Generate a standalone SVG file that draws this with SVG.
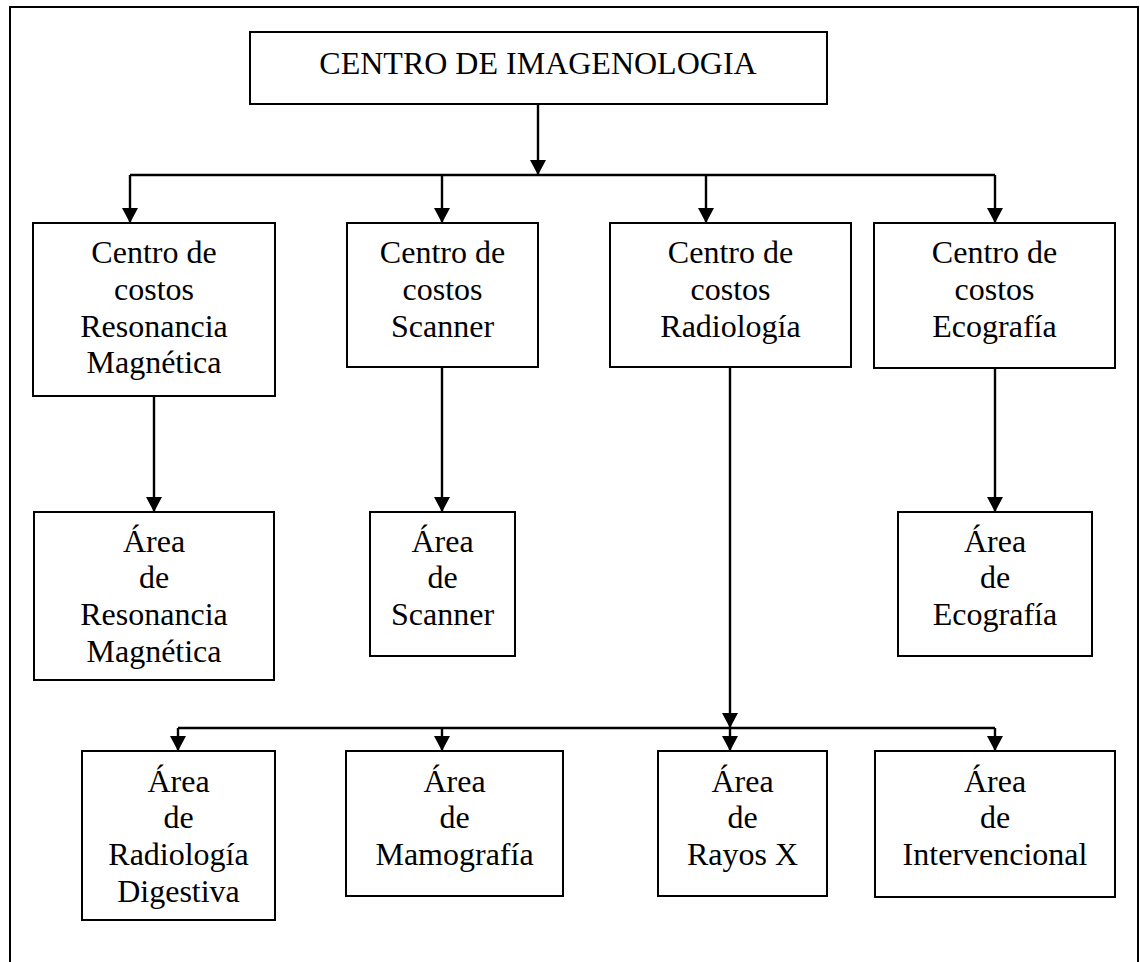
<svg xmlns="http://www.w3.org/2000/svg" width="1140" height="962" viewBox="0 0 1140 962">
  <style>
    .box { fill: #fff; stroke: #000; stroke-width: 2; }
    .frame { fill: none; stroke: #000; stroke-width: 2; }
    .lbl { font-family: "Liberation Serif", "Times New Roman", serif; font-size: 32px; fill: #000; text-anchor: middle; }
    .wire { fill: none; stroke: #000; stroke-width: 2.4; }
  </style>
  <defs>
    <marker id="arrow" markerUnits="userSpaceOnUse" markerWidth="15" markerHeight="16" refX="15" refY="8" orient="auto">
      <path d="M0,0 L15,8 L0,16 Z" fill="#000"/>
    </marker>
  </defs>

  <rect width="1140" height="962" fill="#fff"/>
  <!-- page frame, open at the bottom -->
  <rect class="frame" x="10" y="7" width="1128" height="980"/>

  <!-- connectors -->
  <g id="connectors">
    <line class="wire" x1="538" y1="104" x2="538" y2="175" marker-end="url(#arrow)"/>
    <line class="wire" x1="130" y1="175" x2="995" y2="175"/>
    <line class="wire" x1="130" y1="175" x2="130" y2="223" marker-end="url(#arrow)"/>
    <line class="wire" x1="442" y1="175" x2="442" y2="223" marker-end="url(#arrow)"/>
    <line class="wire" x1="706" y1="175" x2="706" y2="223" marker-end="url(#arrow)"/>
    <line class="wire" x1="995" y1="175" x2="995" y2="223" marker-end="url(#arrow)"/>

    <line class="wire" x1="154" y1="396" x2="154" y2="512" marker-end="url(#arrow)"/>
    <line class="wire" x1="442" y1="367" x2="442" y2="512" marker-end="url(#arrow)"/>
    <line class="wire" x1="995" y1="368" x2="995" y2="512" marker-end="url(#arrow)"/>
    <line class="wire" x1="730" y1="367" x2="730" y2="728" marker-end="url(#arrow)"/>

    <line class="wire" x1="178" y1="728" x2="995" y2="728"/>
    <line class="wire" x1="178" y1="728" x2="178" y2="751" marker-end="url(#arrow)"/>
    <line class="wire" x1="442" y1="728" x2="442" y2="751" marker-end="url(#arrow)"/>
    <line class="wire" x1="730" y1="728" x2="730" y2="751" marker-end="url(#arrow)"/>
    <line class="wire" x1="995" y1="728" x2="995" y2="751" marker-end="url(#arrow)"/>
  </g>

  <!-- root -->
  <g id="centro-imagenologia">
    <rect class="box" x="250" y="32" width="577" height="72"/>
    <text class="lbl" x="538" y="74">CENTRO DE IMAGENOLOGIA</text>
  </g>

  <!-- cost centres -->
  <g id="cc-resonancia">
    <rect class="box" x="33" y="223" width="242" height="173"/>
    <text class="lbl" x="154" y="263">Centro de</text>
    <text class="lbl" x="154" y="300">costos</text>
    <text class="lbl" x="154" y="337">Resonancia</text>
    <text class="lbl" x="154" y="373">Magnética</text>
  </g>
  <g id="cc-scanner">
    <rect class="box" x="347" y="223" width="191" height="144"/>
    <text class="lbl" x="442.5" y="263">Centro de</text>
    <text class="lbl" x="442.5" y="300">costos</text>
    <text class="lbl" x="442.5" y="337">Scanner</text>
  </g>
  <g id="cc-radiologia">
    <rect class="box" x="610" y="223" width="241" height="144"/>
    <text class="lbl" x="730.5" y="263">Centro de</text>
    <text class="lbl" x="730.5" y="300">costos</text>
    <text class="lbl" x="730.5" y="337">Radiología</text>
  </g>
  <g id="cc-ecografia">
    <rect class="box" x="874" y="223" width="241" height="145"/>
    <text class="lbl" x="994.5" y="263">Centro de</text>
    <text class="lbl" x="994.5" y="300">costos</text>
    <text class="lbl" x="994.5" y="337">Ecografía</text>
  </g>

  <!-- areas under single cost centres -->
  <g id="area-resonancia">
    <rect class="box" x="34" y="512" width="240" height="168"/>
    <text class="lbl" x="154" y="552">Área</text>
    <text class="lbl" x="154" y="588">de</text>
    <text class="lbl" x="154" y="625">Resonancia</text>
    <text class="lbl" x="154" y="662">Magnética</text>
  </g>
  <g id="area-scanner">
    <rect class="box" x="370" y="512" width="145" height="144"/>
    <text class="lbl" x="442.5" y="552">Área</text>
    <text class="lbl" x="442.5" y="588">de</text>
    <text class="lbl" x="442.5" y="625">Scanner</text>
  </g>
  <g id="area-ecografia">
    <rect class="box" x="898" y="512" width="194" height="144"/>
    <text class="lbl" x="995" y="552">Área</text>
    <text class="lbl" x="995" y="588">de</text>
    <text class="lbl" x="995" y="625">Ecografía</text>
  </g>

  <!-- radiology areas -->
  <g id="area-radiologia-digestiva">
    <rect class="box" x="82" y="751" width="193" height="169"/>
    <text class="lbl" x="178.5" y="792">Área</text>
    <text class="lbl" x="178.5" y="828">de</text>
    <text class="lbl" x="178.5" y="865">Radiología</text>
    <text class="lbl" x="178.5" y="902">Digestiva</text>
  </g>
  <g id="area-mamografia">
    <rect class="box" x="346" y="751" width="217" height="145"/>
    <text class="lbl" x="454.5" y="792">Área</text>
    <text class="lbl" x="454.5" y="828">de</text>
    <text class="lbl" x="454.5" y="865">Mamografía</text>
  </g>
  <g id="area-rayos-x">
    <rect class="box" x="658" y="751" width="169" height="145"/>
    <text class="lbl" x="742.5" y="792">Área</text>
    <text class="lbl" x="742.5" y="828">de</text>
    <text class="lbl" x="742.5" y="865">Rayos X</text>
  </g>
  <g id="area-intervencional">
    <rect class="box" x="875" y="751" width="240" height="146"/>
    <text class="lbl" x="995" y="792">Área</text>
    <text class="lbl" x="995" y="828">de</text>
    <text class="lbl" x="995" y="865">Intervencional</text>
  </g>
</svg>
